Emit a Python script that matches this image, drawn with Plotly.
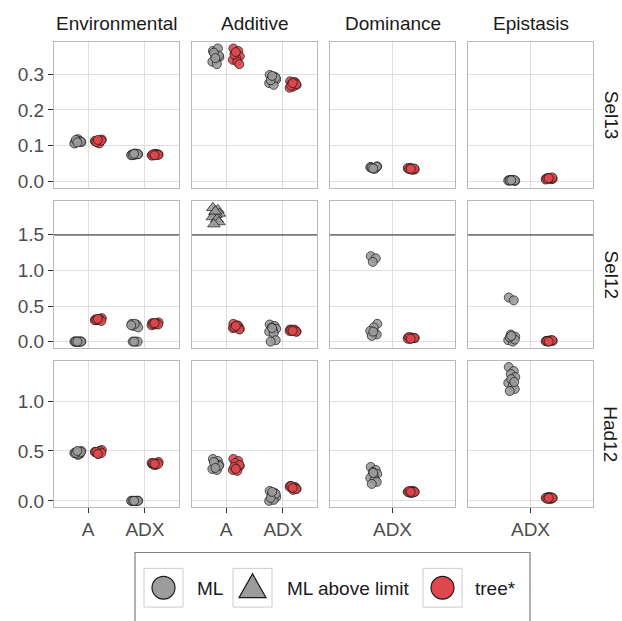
import plotly.graph_objects as go

# ---------------- data ----------------
ROWS = ["Sel13", "Sel12", "Had12"]
COLS = ["Environmental", "Additive", "Dominance", "Epistasis"]
COL_CATS = [["A", "ADX"], ["A", "ADX"], ["ADX"], ["ADX"]]

# Sel13
SEL13_ENV_A_ML = [0.108, 0.112, 0.115, 0.110, 0.118, 0.106, 0.113, 0.111, 0.116, 0.109]
SEL13_ENV_A_TREE = [0.112, 0.115, 0.109, 0.117, 0.111, 0.113, 0.106, 0.114, 0.110, 0.116]
SEL13_ENV_ADX_ML = [0.075, 0.077, 0.074, 0.076, 0.078, 0.073, 0.075, 0.076, 0.074, 0.077]
SEL13_ENV_ADX_TREE = [0.074, 0.076, 0.073, 0.075, 0.077, 0.072, 0.075, 0.074, 0.076, 0.073]
SEL13_ADD_A_ML = [0.365, 0.372, 0.355, 0.348, 0.342, 0.335, 0.328, 0.352, 0.360, 0.345]
SEL13_ADD_A_TREE = [0.372, 0.365, 0.358, 0.350, 0.345, 0.340, 0.335, 0.328, 0.355, 0.362]
SEL13_ADD_ADX_ML = [0.298, 0.293, 0.288, 0.285, 0.280, 0.275, 0.270, 0.290, 0.283, 0.295]
SEL13_ADD_ADX_TREE = [0.280, 0.277, 0.274, 0.270, 0.265, 0.262, 0.278, 0.272, 0.268, 0.275]
SEL13_DOM_ADX_ML = [0.040, 0.038, 0.036, 0.042, 0.037, 0.039, 0.035, 0.041, 0.038, 0.036]
SEL13_DOM_ADX_TREE = [0.036, 0.034, 0.038, 0.033, 0.035, 0.037, 0.032, 0.036, 0.034, 0.035]
SEL13_EPI_ADX_ML = [0.003, 0.002, 0.004, 0.001, 0.003, 0.002, 0.004, 0.003, 0.002, 0.003]
SEL13_EPI_ADX_TREE = [0.008, 0.006, 0.010, 0.007, 0.009, 0.005, 0.008, 0.011, 0.007, 0.009]

# Sel12
SEL12_ENV_A_ML = [0.0, 0.001, 0.0, 0.002, 0.0, 0.001, 0.0, 0.0, 0.001, 0.0]
SEL12_ENV_A_TREE = [0.31, 0.32, 0.30, 0.33, 0.31, 0.30, 0.32, 0.29, 0.31, 0.32]
SEL12_ENV_ADX_ML = [0.25, 0.24, 0.22, 0.20, 0.25, 0.23, 0.0, 0.0, 0.001, 0.0]
SEL12_ENV_ADX_TREE = [0.26, 0.25, 0.24, 0.27, 0.25, 0.23, 0.26, 0.24, 0.25, 0.26]
SEL12_ADD_A_ML_ABOVE = [1.88, 1.85, 1.82, 1.80, 1.78, 1.75, 1.72, 1.68, 1.65, 1.83]
SEL12_ADD_A_TREE = [0.25, 0.22, 0.20, 0.18, 0.21, 0.19, 0.23, 0.17, 0.20, 0.22]
SEL12_ADD_ADX_ML = [0.24, 0.22, 0.20, 0.18, 0.16, 0.14, 0.12, 0.02, 0.0, 0.19]
SEL12_ADD_ADX_TREE = [0.17, 0.16, 0.15, 0.14, 0.16, 0.15, 0.17, 0.14, 0.16, 0.15]
SEL12_DOM_ADX_ML = [1.20, 1.17, 1.12, 0.25, 0.20, 0.15, 0.12, 0.10, 0.08, 0.14]
SEL12_DOM_ADX_TREE = [0.06, 0.05, 0.04, 0.05, 0.06, 0.04, 0.05, 0.05, 0.06, 0.04]
SEL12_EPI_ADX_ML = [0.62, 0.58, 0.10, 0.07, 0.05, 0.02, 0.0, 0.03, 0.06, 0.08]
SEL12_EPI_ADX_TREE = [0.01, 0.02, 0.0, 0.01, 0.015, 0.005, 0.01, 0.02, 0.01, 0.0]

# Had12
HAD12_ENV_A_ML = [0.48, 0.47, 0.49, 0.50, 0.46, 0.48, 0.47, 0.49, 0.48, 0.50]
HAD12_ENV_A_TREE = [0.49, 0.50, 0.48, 0.51, 0.47, 0.49, 0.50, 0.48, 0.49, 0.47]
HAD12_ENV_ADX_ML = [0.0, 0.001, 0.0, 0.002, 0.0, 0.001, 0.0, 0.0, 0.001, 0.0]
HAD12_ENV_ADX_TREE = [0.37, 0.38, 0.36, 0.39, 0.37, 0.38, 0.36, 0.37, 0.38, 0.37]
HAD12_ADD_A_ML = [0.42, 0.40, 0.38, 0.36, 0.34, 0.32, 0.31, 0.35, 0.39, 0.33]
HAD12_ADD_A_TREE = [0.42, 0.40, 0.38, 0.35, 0.33, 0.31, 0.30, 0.36, 0.34, 0.32]
HAD12_ADD_ADX_ML = [0.10, 0.08, 0.06, 0.04, 0.02, 0.0, 0.01, 0.07, 0.03, 0.09]
HAD12_ADD_ADX_TREE = [0.15, 0.14, 0.13, 0.12, 0.11, 0.14, 0.13, 0.12, 0.15, 0.13]
HAD12_DOM_ADX_ML = [0.34, 0.31, 0.29, 0.27, 0.25, 0.23, 0.21, 0.19, 0.17, 0.28]
HAD12_DOM_ADX_TREE = [0.09, 0.10, 0.08, 0.09, 0.10, 0.09, 0.08, 0.09, 0.10, 0.09]
HAD12_EPI_ADX_ML = [1.34, 1.30, 1.27, 1.24, 1.21, 1.18, 1.15, 1.12, 1.10, 1.22, 1.19]
HAD12_EPI_ADX_TREE = [0.03, 0.02, 0.04, 0.03, 0.02, 0.03, 0.04, 0.03, 0.02, 0.03]

Y_TICKS = [[0, 0.1, 0.2, 0.3], [0, 0.5, 1.0, 1.5], [0, 0.5, 1.0]]
Y_TICKTEXT = [["0.0", "0.1", "0.2", "0.3"], ["0.0", "0.5", "1.0", "1.5"], ["0.0", "0.5", "1.0"]]
LIMIT_ROW = "Sel12"
LIMIT_VALUE = 1.5

RECORDS = [
    ("Sel13", "Environmental", "A", "ML", SEL13_ENV_A_ML),
    ("Sel13", "Environmental", "A", "tree*", SEL13_ENV_A_TREE),
    ("Sel13", "Environmental", "ADX", "ML", SEL13_ENV_ADX_ML),
    ("Sel13", "Environmental", "ADX", "tree*", SEL13_ENV_ADX_TREE),
    ("Sel13", "Additive", "A", "ML", SEL13_ADD_A_ML),
    ("Sel13", "Additive", "A", "tree*", SEL13_ADD_A_TREE),
    ("Sel13", "Additive", "ADX", "ML", SEL13_ADD_ADX_ML),
    ("Sel13", "Additive", "ADX", "tree*", SEL13_ADD_ADX_TREE),
    ("Sel13", "Dominance", "ADX", "ML", SEL13_DOM_ADX_ML),
    ("Sel13", "Dominance", "ADX", "tree*", SEL13_DOM_ADX_TREE),
    ("Sel13", "Epistasis", "ADX", "ML", SEL13_EPI_ADX_ML),
    ("Sel13", "Epistasis", "ADX", "tree*", SEL13_EPI_ADX_TREE),
    ("Sel12", "Environmental", "A", "ML", SEL12_ENV_A_ML),
    ("Sel12", "Environmental", "A", "tree*", SEL12_ENV_A_TREE),
    ("Sel12", "Environmental", "ADX", "ML", SEL12_ENV_ADX_ML),
    ("Sel12", "Environmental", "ADX", "tree*", SEL12_ENV_ADX_TREE),
    ("Sel12", "Additive", "A", "ML above limit", SEL12_ADD_A_ML_ABOVE),
    ("Sel12", "Additive", "A", "tree*", SEL12_ADD_A_TREE),
    ("Sel12", "Additive", "ADX", "ML", SEL12_ADD_ADX_ML),
    ("Sel12", "Additive", "ADX", "tree*", SEL12_ADD_ADX_TREE),
    ("Sel12", "Dominance", "ADX", "ML", SEL12_DOM_ADX_ML),
    ("Sel12", "Dominance", "ADX", "tree*", SEL12_DOM_ADX_TREE),
    ("Sel12", "Epistasis", "ADX", "ML", SEL12_EPI_ADX_ML),
    ("Sel12", "Epistasis", "ADX", "tree*", SEL12_EPI_ADX_TREE),
    ("Had12", "Environmental", "A", "ML", HAD12_ENV_A_ML),
    ("Had12", "Environmental", "A", "tree*", HAD12_ENV_A_TREE),
    ("Had12", "Environmental", "ADX", "ML", HAD12_ENV_ADX_ML),
    ("Had12", "Environmental", "ADX", "tree*", HAD12_ENV_ADX_TREE),
    ("Had12", "Additive", "A", "ML", HAD12_ADD_A_ML),
    ("Had12", "Additive", "A", "tree*", HAD12_ADD_A_TREE),
    ("Had12", "Additive", "ADX", "ML", HAD12_ADD_ADX_ML),
    ("Had12", "Additive", "ADX", "tree*", HAD12_ADD_ADX_TREE),
    ("Had12", "Dominance", "ADX", "ML", HAD12_DOM_ADX_ML),
    ("Had12", "Dominance", "ADX", "tree*", HAD12_DOM_ADX_TREE),
    ("Had12", "Epistasis", "ADX", "ML", HAD12_EPI_ADX_ML),
    ("Had12", "Epistasis", "ADX", "tree*", HAD12_EPI_ADX_TREE),
]

# ---------------- layout geometry ----------------
W, H = 622, 621
FONT = "Liberation Sans, Arial, sans-serif"
GREY_FILL = "#9c9c9c"
RED_FILL = "#e0474c"
GRID = "#dedede"
BORDER = "#b8b8b8"
TXT = "#4d4d4d"
DARK = "#1a1a1a"
FS = 19

COL_LEFT = [54, 192, 330, 468]
PANEL_W = 125
ROW_TOP = [42, 203, 364]
PANEL_H = 147.5
Y_RANGES = [[-0.0186, 0.391], [-0.085, 1.97], [-0.065, 1.40]]
DODGE = 0.18
JITTER_PX = [-3, 2, -1, 3.5, 0, -3.5, 1, 3, -2, -0.5, 2.5]


def X(p):
    return p / W


def Y(p):
    return 1 - p / H


def ax_idx(r, c):
    return r * 4 + c + 1


STYLE = {
    "ML": dict(symbol="circle", size=9, color=GREY_FILL, side=-1),
    "ML above limit": dict(symbol="triangle-up", size=11, color=GREY_FILL, side=-1),
    "tree*": dict(symbol="circle", size=9, color=RED_FILL, side=1),
}

fig = go.Figure()

for row, col, cat, method, vals in RECORDS:
    r = ROWS.index(row)
    c = COLS.index(col)
    k = ax_idx(r, c)
    cats = COL_CATS[c]
    span = len(cats) - 1 + 1.2
    unit_per_px = span / PANEL_W
    st = STYLE[method]
    base = cats.index(cat) + st["side"] * DODGE
    xs = [base + JITTER_PX[i % len(JITTER_PX)] * unit_per_px for i in range(len(vals))]
    sfx = "" if k == 1 else str(k)
    fig.add_trace(go.Scatter(
        x=xs, y=vals, mode="markers", name=method, showlegend=False,
        xaxis="x" + sfx, yaxis="y" + sfx, hoverinfo="y+name",
        marker=dict(symbol=st["symbol"], size=st["size"], color=st["color"],
                    opacity=0.9, line=dict(color=DARK, width=0.8)),
    ))

layout = dict(
    width=W, height=H, margin=dict(l=0, r=0, t=0, b=0),
    paper_bgcolor="white", plot_bgcolor="white",
    font=dict(family=FONT, size=FS, color=TXT),
    showlegend=False,
)

shapes = []
annotations = []

for r in range(3):
    for c in range(4):
        k = ax_idx(r, c)
        sfx = "" if k == 1 else str(k)
        cats = COL_CATS[c]
        left = COL_LEFT[c]
        top = ROW_TOP[r]
        layout["xaxis" + sfx] = dict(
            domain=[X(left), X(left + PANEL_W)], anchor="y" + sfx,
            range=[-0.6, len(cats) - 1 + 0.6],
            tickmode="array", tickvals=list(range(len(cats))), ticktext=cats,
            showticklabels=(r == 2), ticks="outside" if r == 2 else "",
            ticklen=5, tickcolor="#333333", tickwidth=1,
            tickfont=dict(size=FS, color=TXT, family=FONT),
            showgrid=True, gridcolor=GRID, gridwidth=1, zeroline=False,
            showline=True, mirror=True, linecolor=BORDER, linewidth=1,
            fixedrange=True,
        )
        layout["yaxis" + sfx] = dict(
            domain=[Y(top + PANEL_H), Y(top)], anchor="x" + sfx,
            range=Y_RANGES[r],
            tickmode="array", tickvals=Y_TICKS[r], ticktext=Y_TICKTEXT[r],
            showticklabels=(c == 0), ticks="outside" if c == 0 else "",
            ticklen=5, tickcolor="#333333", tickwidth=1,
            tickfont=dict(size=FS, color=TXT, family=FONT),
            showgrid=True, gridcolor=GRID, gridwidth=1, zeroline=False,
            showline=True, mirror=True, linecolor=BORDER, linewidth=1,
            fixedrange=True,
        )
        if ROWS[r] == LIMIT_ROW:
            shapes.append(dict(
                type="line", xref="x" + sfx, yref="y" + sfx,
                x0=-0.6, x1=len(cats) - 1 + 0.6, y0=LIMIT_VALUE, y1=LIMIT_VALUE,
                line=dict(color="#777777", width=1.6), layer="above",
            ))

# strip titles
for c, name in enumerate(COLS):
    annotations.append(dict(
        text=name, xref="paper", yref="paper",
        x=X(COL_LEFT[c] + PANEL_W / 2), y=Y(24), xanchor="center", yanchor="middle",
        showarrow=False, font=dict(size=FS, color=DARK, family=FONT),
    ))
for r, name in enumerate(ROWS):
    annotations.append(dict(
        text=name, xref="paper", yref="paper",
        x=X(611), y=Y(ROW_TOP[r] + PANEL_H / 2), xanchor="center", yanchor="middle",
        textangle=90, showarrow=False, font=dict(size=FS, color=DARK, family=FONT),
    ))

# legend (drawn manually to match ggplot-style keys)
shapes.append(dict(type="rect", xref="paper", yref="paper",
                   x0=X(135), x1=X(530), y0=Y(630), y1=Y(557),
                   line=dict(color="#7f7f7f", width=1.2), fillcolor="rgba(0,0,0,0)"))
LEGEND_KEYS = [
    ("ML", 144, 195, "circle", GREY_FILL),
    ("ML above limit", 233, 285, "triangle", GREY_FILL),
    ("tree*", 423, 473, "circle", RED_FILL),
]
for label, kx, tx, kind, fill in LEGEND_KEYS:
    shapes.append(dict(type="rect", xref="paper", yref="paper",
                       x0=X(kx), x1=X(kx + 39), y0=Y(612), y1=Y(573),
                       line=dict(color="#cccccc", width=1), fillcolor="white"))
    cx, cy = kx + 19.5, 592.5
    if kind == "circle":
        rr = 11.5
        shapes.append(dict(type="circle", xref="paper", yref="paper",
                           x0=X(cx - rr), x1=X(cx + rr), y0=Y(cy + rr), y1=Y(cy - rr),
                           line=dict(color=DARK, width=1.2), fillcolor=fill))
    else:
        p = "M {:.5f},{:.5f} L {:.5f},{:.5f} L {:.5f},{:.5f} Z".format(
            X(cx - 13.5), Y(cy + 10), X(cx + 13.5), Y(cy + 10), X(cx), Y(cy - 14))
        shapes.append(dict(type="path", xref="paper", yref="paper", path=p,
                           line=dict(color=DARK, width=1.2), fillcolor=fill))
    annotations.append(dict(
        text=label, xref="paper", yref="paper", x=X(tx), y=Y(593),
        xanchor="left", yanchor="middle", showarrow=False,
        font=dict(size=FS, color=DARK, family=FONT),
    ))

layout["shapes"] = shapes
layout["annotations"] = annotations
fig.update_layout(**layout)

fig.write_html("out.html", config={"displayModeBar": False},
               post_script="document.body.style.margin='0';")
